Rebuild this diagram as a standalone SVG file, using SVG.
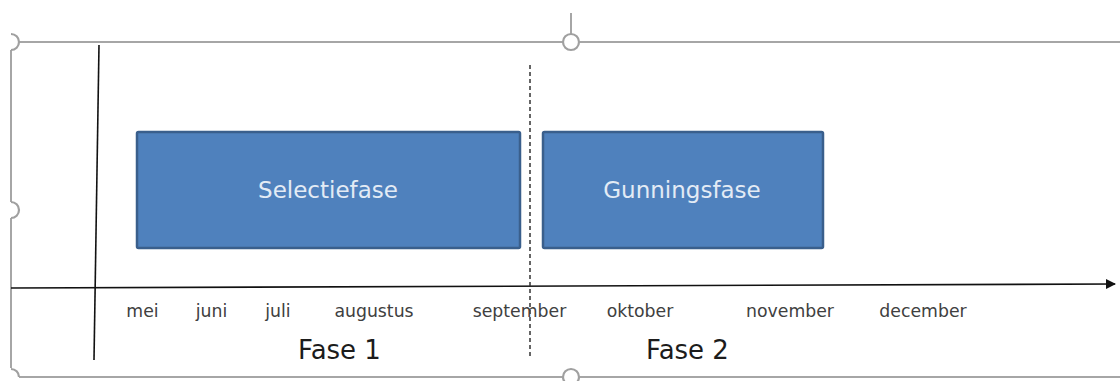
<svg xmlns="http://www.w3.org/2000/svg" width="1120" height="381" viewBox="0 0 1120 381">
  <defs>
    <style>
      .frame{fill:none;stroke:#a6a6a6;stroke-width:2}
      .handle{fill:#fff;stroke:#a0a0a0;stroke-width:2.2}
      .axis{fill:none;stroke:#111;stroke-width:1.6}
      .box{fill:#4f81bd;stroke:#3a5f8c;stroke-width:2.5}
      .boxtxt{font-family:"DejaVu Sans","Liberation Sans",sans-serif;font-size:23px;fill:#e3ebf5;text-anchor:middle}
      .month{font-family:"DejaVu Sans","Liberation Sans",sans-serif;font-size:17.3px;fill:#404040;text-anchor:middle}
      .fase{font-family:"DejaVu Sans","Liberation Sans",sans-serif;font-size:26px;fill:#1c1c1c;text-anchor:middle}
    </style>
    <marker id="arrow" viewBox="0 0 10 10" refX="9" refY="5" markerWidth="10" markerHeight="10" markerUnits="userSpaceOnUse" orient="auto">
      <path d="M0,0 L10,5 L0,10 z" fill="#111"/>
    </marker>
  </defs>

  <g id="selection-frame">
    <line class="frame" x1="11" y1="50" x2="11" y2="202"/>
    <line class="frame" x1="11" y1="218" x2="11" y2="368"/>
    <line class="frame" x1="19" y1="42" x2="563" y2="42"/>
    <line class="frame" x1="580" y1="42" x2="1120" y2="42"/>
    <line class="frame" x1="19" y1="377" x2="563" y2="377"/>
    <line class="frame" x1="580" y1="377" x2="1120" y2="377"/>
    <line class="frame" x1="571" y1="13" x2="571" y2="34"/>
    <path class="handle" d="M11,34 A8,8 0 0 1 11,50"/>
    <path class="handle" d="M11,202 A8,8 0 0 1 11,218"/>
    <path class="handle" d="M11,369 A8,8 0 0 1 19,377"/>
    <circle class="handle" cx="571" cy="42" r="8"/>
    <circle class="handle" cx="571" cy="377" r="8"/>
  </g>

  <g id="connectors">
    <line id="y-axis" class="axis" x1="99" y1="45" x2="94" y2="360"/>
    <line id="x-axis" class="axis" x1="11" y1="288" x2="1115" y2="284" marker-end="url(#arrow)"/>
    <line id="phase-divider" x1="530" y1="65" x2="530" y2="356" stroke="#333" stroke-width="1.5" stroke-dasharray="4 3"/>
  </g>

  <g id="selectiefase">
    <rect class="box" x="137" y="132" width="383" height="116" rx="1.5"/>
    <text class="boxtxt" x="328" y="198">Selectiefase</text>
  </g>

  <g id="gunningsfase">
    <rect class="box" x="543" y="132" width="280" height="116" rx="1.5"/>
    <text class="boxtxt" x="682" y="198">Gunningsfase</text>
  </g>

  <g id="months">
    <text class="month" x="142.5" y="317">mei</text>
    <text class="month" x="211.5" y="317">juni</text>
    <text class="month" x="278" y="317">juli</text>
    <text class="month" x="374" y="317">augustus</text>
    <text class="month" x="519.5" y="317">september</text>
    <text class="month" x="640" y="317">oktober</text>
    <text class="month" x="790" y="317">november</text>
    <text class="month" x="923" y="317">december</text>
  </g>

  <g id="phases">
    <text class="fase" x="339.5" y="359">Fase 1</text>
    <text class="fase" x="687.5" y="359">Fase 2</text>
  </g>
</svg>
